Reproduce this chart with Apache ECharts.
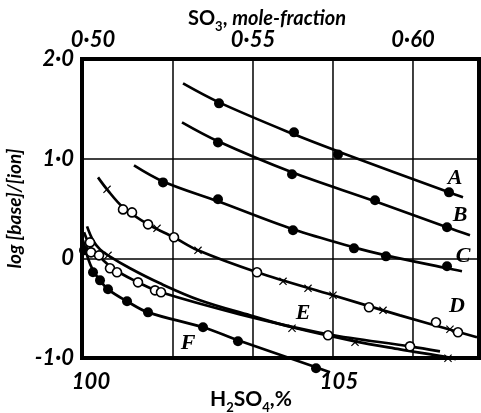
<!DOCTYPE html>
<html><head><meta charset="utf-8">
<script src="https://cdn.jsdelivr.net/npm/echarts@6/dist/echarts.min.js"></script>
<style>html,body{margin:0;padding:0;background:#fff}#c{width:481px;height:413px}</style>
</head><body><div id="c"></div>
<script>
// Axis ticks
const topTicks = [0.50, 0.55, 0.60];
const topTickLabels = ['0·50', '0·55', '0·60'];
const bottomTicks = [100, 105];
const bottomTickLabels = ['100', '105'];
const yTicks = [-1, 0, 1, 2];
const yTickLabels = ['-1·0', '0', '1·0', '2·0'];
const gridX = [0.525, 0.55, 0.575, 0.60];

// Fitted curves [SO3 mole fraction, log[base]/[ion]]
const curveA = [[0.52813,1.755],[0.53938,1.565],[0.56281,1.244],[0.57656,1.073],[0.61125,0.662],[0.61563,0.612]];
const curveB = [[0.52781,1.364],[0.53906,1.174],[0.56219,0.863],[0.58813,0.572],[0.61063,0.311],[0.61781,0.231]];
const curveC = [[0.51281,0.933],[0.52188,0.772],[0.53906,0.572],[0.5625,0.291],[0.58156,0.110],[0.59156,0.030],[0.61063,-0.100],[0.61531,-0.130]];
const curveD = [[0.50156,0.812],[0.50438,0.692],[0.50938,0.512],[0.51719,0.341],[0.52531,0.211],[0.53281,0.080],[0.55125,-0.140],[0.575,-0.371],[0.59594,-0.572],[0.62,-0.792]];
const curveEx = [[0.49813,0.321],[0.5,0.181],[0.50219,0.090],[0.50469,0.030],[0.51156,-0.100],[0.52094,-0.251],[0.53344,-0.421],[0.54906,-0.572],[0.56219,-0.692],[0.58188,-0.833],[0.59594,-0.913],[0.61094,-0.993],[0.61344,-1.013]];
const curveEo = [[0.49719,0.261],[0.49844,0.160],[0.49969,0.080],[0.50188,0.020],[0.50531,-0.080],[0.5075,-0.130],[0.51406,-0.241],[0.52125,-0.341],[0.54594,-0.562],[0.57344,-0.762],[0.59906,-0.883],[0.60844,-0.933]];
const curveF = [[0.49688,0.181],[0.49844,0.0],[0.5,-0.120],[0.50219,-0.221],[0.50469,-0.311],[0.51063,-0.431],[0.51719,-0.542],[0.53438,-0.692],[0.54531,-0.822],[0.56969,-1.093],[0.57406,-1.143]];

// Measured points
const pointsA = [[0.53938,1.555],[0.56281,1.264],[0.57656,1.043],[0.61125,0.662]];
const pointsB = [[0.53906,1.163],[0.56219,0.843],[0.58813,0.582],[0.61063,0.311]];
const pointsC = [[0.52188,0.762],[0.53906,0.592],[0.5625,0.281],[0.58156,0.100],[0.59156,0.020],[0.61063,-0.080]];
const pointsF = [[0.49719,0.080],[0.5,-0.140],[0.50219,-0.221],[0.50469,-0.311],[0.51063,-0.431],[0.51719,-0.542],[0.53438,-0.692],[0.54531,-0.832],[0.56969,-1.103]];
const openD = [[0.50938,0.491],[0.51219,0.461],[0.51719,0.341],[0.52531,0.211],[0.55125,-0.140],[0.58625,-0.491],[0.60719,-0.642],[0.61406,-0.742]];
const crossD = [[0.50438,0.692],[0.52,0.301],[0.53281,0.080],[0.55938,-0.231],[0.56719,-0.301],[0.575,-0.371],[0.59063,-0.522],[0.61156,-0.712]];
const openE = [[0.49906,0.160],[0.49938,0.060],[0.50188,0.030],[0.50531,-0.100],[0.5075,-0.140],[0.51406,-0.241],[0.51938,-0.321],[0.52125,-0.341],[0.57344,-0.772],[0.59906,-0.883]];
const crossE = [[0.50469,0.030],[0.56219,-0.702],[0.58188,-0.843],[0.61094,-1.003]];

// Curve letters
const curveLetters = ['A', 'B', 'C', 'D', 'E', 'F'];
const letterPos = [[0.61313,0.802],[0.61469,0.431],[0.61563,0.020],[0.61375,-0.481],[0.56563,-0.552],[0.52969,-0.853]];

const FONT = 'Lato';
const tickStyle = {color:'#000', fontFamily:FONT, fontSize:22, fontStyle:'italic', fontWeight:'bold'};
const crossPath = 'path://M0,1L1,0L5,4L9,0L10,1L6,5L10,9L9,10L5,6L1,10L0,9L4,5Z';

function lineS(d){ return {type:'line', data:d, xAxisIndex:0, smooth:0.35, showSymbol:false, clip:false, silent:true, lineStyle:{color:'#000', width:2.7}, z:3}; }
function filledS(d){ return {type:'scatter', data:d, xAxisIndex:0, symbol:'circle', symbolSize:10, clip:false, silent:true, itemStyle:{color:'#000', opacity:1}, z:5}; }
function openS(d){ return {type:'scatter', data:d, xAxisIndex:0, symbol:'circle', symbolSize:9, clip:false, silent:true, itemStyle:{color:'#fff', borderColor:'#000', borderWidth:1.6, opacity:1}, z:6}; }
function crossS(d){ return {type:'scatter', data:d, xAxisIndex:0, symbol:crossPath, symbolSize:8, clip:false, silent:true, itemStyle:{color:'#000', opacity:1}, z:6}; }

const gridSeries = gridX.map(x => ({type:'line', xAxisIndex:0, data:[[x,-1],[x,2]], showSymbol:false, silent:true, lineStyle:{color:'#000', width:1.5}, z:1}));

const series = gridSeries.concat([
  lineS(curveA), lineS(curveB), lineS(curveC), lineS(curveD), lineS(curveEx), lineS(curveEo), lineS(curveF),
  filledS(pointsA), filledS(pointsB), filledS(pointsC), filledS(pointsF),
  openS(openD), crossS(crossD), openS(openE), crossS(crossE),
  {type:'scatter', xAxisIndex:0, symbolSize:1, silent:true, clip:false, itemStyle:{color:'rgba(0,0,0,0)', opacity:1},
   data: curveLetters.map((n,i)=>({name:n, value:letterPos[i]})),
   label:{show:true, position:'inside', formatter:p=>p.name, color:'#000', opacity:1, fontFamily:'Liberation Serif', fontStyle:'italic', fontWeight:'bold', fontSize:22}, z:7}
]);

const chart = echarts.init(document.getElementById('c'), null, {renderer:'canvas'});
chart.setOption({
  backgroundColor:'#fff',
  animation:false,
  grid:{left:82, right:2, top:59, bottom:55, show:true, borderColor:'#000', borderWidth:4, backgroundColor:'rgba(0,0,0,0)', containLabel:false, outerBoundsMode:'none'},
  xAxis:[
    {type:'value', position:'top', min:0.49656, max:0.62063,
     axisLine:{show:false}, axisTick:{show:false}, splitLine:{show:false},
     axisLabel:Object.assign({customValues:topTicks, margin:8, formatter:v=>{const i=topTicks.findIndex(t=>Math.abs(t-v)<1e-6); return i>=0?topTickLabels[i]:'';}}, tickStyle),
     name:'{a|SO}{s|3}{a|, }{i|mole-fraction}', nameLocation:'middle', nameGap:30, nameMoveOverlap:false,
     nameTextStyle:{padding:[0,27,0,0], rich:{
       a:{fontFamily:FONT, fontSize:20, fontWeight:'bold', color:'#000'},
       s:{fontFamily:FONT, fontSize:13, fontWeight:'bold', color:'#000', verticalAlign:'bottom', padding:[0,0,-4,0]},
       i:{fontFamily:FONT, fontSize:20, fontWeight:'bold', fontStyle:'italic', color:'#000'}}}},
    {type:'value', position:'bottom', min:99.8185, max:107.8226,
     axisLine:{show:false}, axisTick:{show:false}, splitLine:{show:false},
     axisLabel:Object.assign({customValues:bottomTicks, margin:13, formatter:v=>{const i=bottomTicks.findIndex(t=>Math.abs(t-v)<1e-6); return i>=0?bottomTickLabels[i]:'';}}, tickStyle),
     name:'{a|H}{s|2}{a|SO}{s|4}{a|,%}', nameLocation:'middle', nameGap:31, nameMoveOverlap:false,
     nameTextStyle:{padding:[0,59,0,0], rich:{
       a:{fontFamily:FONT, fontSize:21, fontWeight:'bold', color:'#000'},
       s:{fontFamily:FONT, fontSize:13, fontWeight:'bold', color:'#000', verticalAlign:'bottom', padding:[0,0,-4,0]}}}}
  ],
  yAxis:{type:'value', min:-1, max:2, interval:1,
    axisLine:{show:false}, axisTick:{show:false},
    splitLine:{show:true, lineStyle:{color:'#000', width:1.5}},
    axisLabel:Object.assign({margin:8, formatter:v=>{const i=yTicks.findIndex(t=>Math.abs(t-v)<1e-6); return i>=0?yTickLabels[i]:'';}}, tickStyle),
    name:'log [base]/[ion]', nameLocation:'middle', nameGap:58, nameRotate:90, nameMoveOverlap:false,
    nameTextStyle:{fontFamily:FONT, fontSize:19, fontWeight:'bold', fontStyle:'italic', color:'#000'}},
  series: series
});
</script></body></html>
